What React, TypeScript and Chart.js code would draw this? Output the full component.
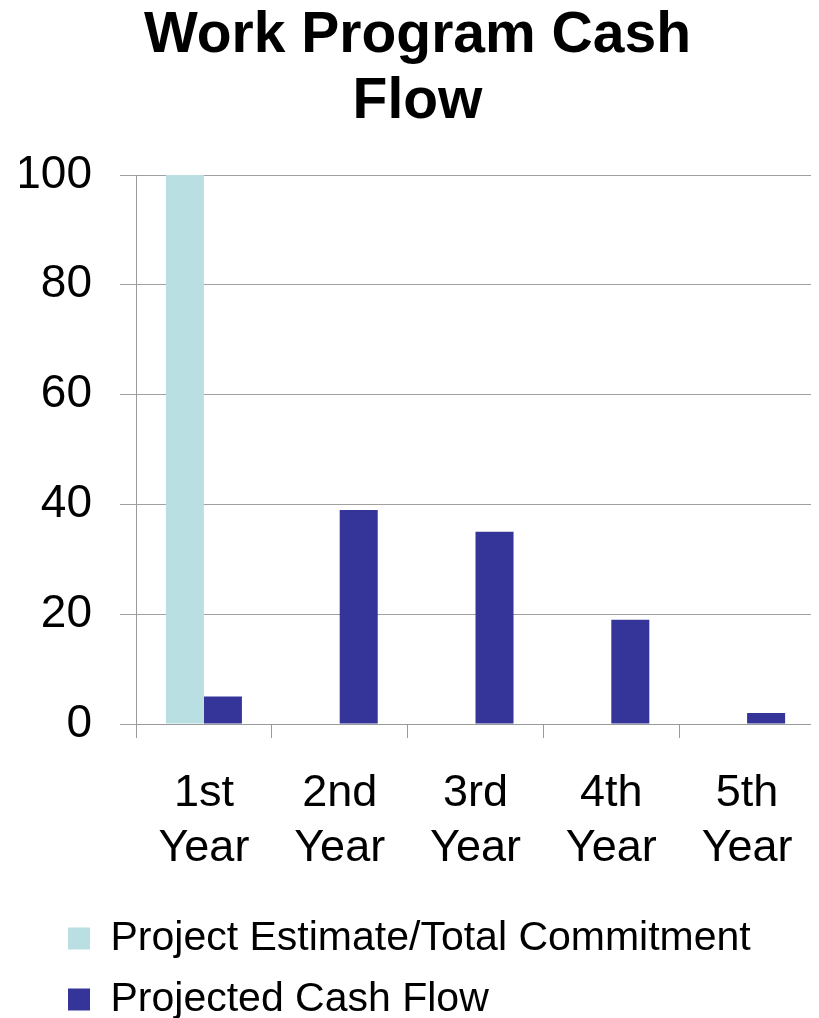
import React, { useEffect, useRef } from "react";
import { Chart, registerables } from "chart.js";

Chart.register(...registerables);

const categories: string[][] = [
  ["1st", "Year"],
  ["2nd", "Year"],
  ["3rd", "Year"],
  ["4th", "Year"],
  ["5th", "Year"],
];
const estimateValues: (number | null)[] = [100, null, null, null, null];
const cashFlowValues: number[] = [5, 39, 35, 19, 2];
const seriesNames = ["Project Estimate/Total Commitment", "Projected Cash Flow"];
const titleLines = ["Work Program Cash", "Flow"];

const FONT = "'Liberation Sans', Arial, Helvetica, sans-serif";

const shiftLegend = {
  id: "shiftLegend",
  afterLayout(chart: any) {
    const l = chart.legend;
    if (l) {
      const dx = 28;
      l.left += dx;
      l.right += dx;
    }
  },
};

export default function App() {
  const ref = useRef<HTMLCanvasElement | null>(null);
  useEffect(() => {
    if (!ref.current) return;
    const chart = new Chart(ref.current, {
      type: "bar",
      data: {
        labels: categories,
        datasets: [
          {
            label: seriesNames[0],
            data: estimateValues,
            backgroundColor: "#B9DFE3",
            borderWidth: 0,
          },
          {
            label: seriesNames[1],
            data: cashFlowValues,
            backgroundColor: "#353599",
            borderWidth: 0,
          },
        ],
      },
      options: {
        animation: false,
        responsive: false,
        maintainAspectRatio: false,
        devicePixelRatio: 1,
        layout: { padding: { left: 12, right: 4, top: 0, bottom: 0 } },
        datasets: {
          bar: { categoryPercentage: 0.56, barPercentage: 1 },
        },
        plugins: {
          title: {
            display: true,
            text: titleLines,
            color: "#000",
            font: { family: FONT, size: 57, weight: "bold", lineHeight: 1.158 },
            padding: { top: 0, bottom: 40 },
          },
          legend: {
            display: true,
            position: "bottom",
            align: "start",
            labels: {
              color: "#000",
              font: { family: FONT, size: 41 },
              boxWidth: 22,
              boxHeight: 22,
              padding: 20,
            },
          },
          tooltip: { enabled: false },
        },
        scales: {
          x: {
            afterFit: (s: any) => {
              s.height = 174;
              s.paddingLeft = 0;
              s.paddingRight = 0;
            },
            grid: {
              display: true,
              drawOnChartArea: false,
              drawTicks: true,
              tickLength: 14,
              color: "#999999",
              offset: true,
            },
            border: { display: true, color: "#999999", width: 1 },
            ticks: {
              color: "#000",
              font: { family: FONT, size: 45, lineHeight: 1.22 },
              padding: 28,
              maxRotation: 0,
              autoSkip: false,
            },
          },
          y: {
            min: 0,
            max: 100,
            afterFit: (s: any) => {
              s.width = 116;
            },
            grid: {
              display: true,
              drawOnChartArea: true,
              drawTicks: true,
              tickLength: 16,
              color: "#A0A0A0",
            },
            border: { display: true, color: "#999999", width: 1 },
            ticks: {
              stepSize: 20,
              color: "#000",
              font: { family: FONT, size: 46 },
              padding: 28,
            },
          },
        },
      },
      plugins: [shiftLegend],
    });
    return () => chart.destroy();
  }, []);
  return (
    <div style={{ width: 811, height: 1027, marginTop: -5 }}>
      <canvas ref={ref} width={811} height={1027} style={{ display: "block" }} />
    </div>
  );
}
